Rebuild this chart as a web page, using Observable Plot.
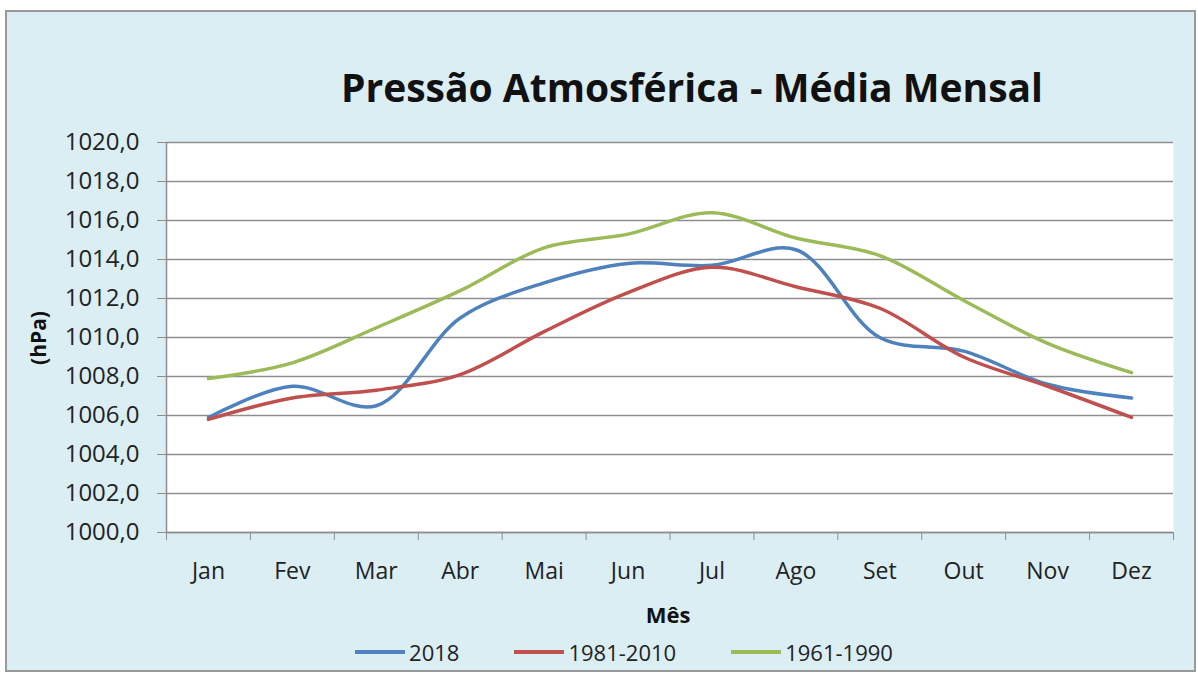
<!DOCTYPE html>
<html>
<head>
<meta charset="utf-8">
<script src="https://cdn.jsdelivr.net/npm/d3@7"></script>
<script src="https://cdn.jsdelivr.net/npm/@observablehq/plot@0.6"></script>
<style>
  html, body { margin: 0; padding: 0; background: #ffffff; }
  #page { position: relative; width: 1198px; height: 676px; overflow: hidden; font-family: "Open Sans", sans-serif; }
  #box { position: absolute; left: 5px; top: 10px; width: 1191px; height: 662px; background: #dbeef4; border: 2px solid #9a9a9a; box-sizing: border-box; }
  #title { position: absolute; left: 0; width: 1384px; top: 60px; text-align: center; font-weight: 700; font-size: 39px; color: #111; white-space: nowrap; }
  #ylabel { position: absolute; left: 38px; top: 338px; transform: translate(-50%, -50%) rotate(-90deg); font-weight: 700; font-size: 21px; color: #111; white-space: nowrap; }
  #xlabel { position: absolute; left: 668px; top: 614px; transform: translate(-50%, -50%); font-weight: 700; font-size: 22px; color: #111; }
  #legend { position: absolute; left: 0; width: 1248px; top: 652px; transform: translateY(-50%); display: flex; justify-content: center; gap: 55px; font-size: 22px; color: #222; }
  #legend .item { display: flex; align-items: center; gap: 4px; }
  #legend .sw { width: 50px; height: 4px; }
  #chart { position: absolute; left: 0; top: 120px; }
</style>
</head>
<body>
<div id="page">
  <div id="box"></div>
  <div id="title">Pressão Atmosférica - Média Mensal</div>
  <div id="ylabel">(hPa)</div>
  <div id="xlabel">Mês</div>
  <div id="chart"></div>
  <div id="legend"></div>
</div>
<script>
const months = ["Jan", "Fev", "Mar", "Abr", "Mai", "Jun", "Jul", "Ago", "Set", "Out", "Nov", "Dez"];
const seriesNames = ["2018", "1981-2010", "1961-1990"];
const seriesColors = ["#4f81bd", "#c0504d", "#9bbb59"];
const values2018 = [1005.9, 1007.5, 1006.5, 1011.0, 1012.8, 1013.8, 1013.7, 1014.5, 1010.0, 1009.3, 1007.6, 1006.9];
const values1981 = [1005.8, 1006.9, 1007.3, 1008.1, 1010.3, 1012.3, 1013.6, 1012.6, 1011.5, 1009.0, 1007.5, 1005.9];
const values1961 = [1007.9, 1008.7, 1010.5, 1012.4, 1014.6, 1015.3, 1016.4, 1015.1, 1014.2, 1011.9, 1009.7, 1008.2];
const yTicks = [1000, 1002, 1004, 1006, 1008, 1010, 1012, 1014, 1016, 1018, 1020];

const allSeries = [values2018, values1981, values1961];
const data = [];
allSeries.forEach((vals, s) => {
  months.forEach((m, i) => data.push({ i, month: m, v: vals[i], serie: seriesNames[s] }));
});
const idx = months.map((m, i) => i);
const bounds = [...idx.map(i => i - 0.5), months.length - 0.5];

const chart = Plot.plot({
  width: 1198,
  height: 480,
  marginLeft: 166,
  marginRight: 25,
  marginTop: 22,
  marginBottom: 68,
  style: { background: "transparent", fontFamily: "'Open Sans', sans-serif", fontSize: "23px", color: "#222" },
  x: { domain: [-0.5, months.length - 0.5] },
  y: { domain: [1000, 1020] },
  color: { domain: seriesNames, range: seriesColors },
  marks: [
    Plot.frame({ fill: "white", stroke: null }),
    Plot.gridY(yTicks, { stroke: "#8e8e8e", strokeOpacity: 1, strokeWidth: 1.5 }),
    Plot.axisY(yTicks, { tickSize: 9, tickPadding: 18, tickFormat: d => d.toFixed(1).replace(".", ","), label: null, stroke: "#8e8e8e", fill: "#222", fontSize: 24 }),
    Plot.axisX(bounds, { tickSize: 8, tickFormat: () => "", label: null, stroke: "#8e8e8e" }),
    Plot.axisX(idx, { tickSize: 0, tickPadding: 30, tickFormat: i => months[i], label: null, fill: "#222", fontSize: 23 }),
    Plot.ruleX([-0.5], { stroke: "#8e8e8e", strokeWidth: 1.5 }),
    Plot.ruleY([1000], { stroke: "#8e8e8e", strokeWidth: 1.5 }),
    Plot.line(data, { x: "i", y: "v", z: "serie", stroke: "serie", curve: "catmull-rom", strokeWidth: 3.5 })
  ]
});
document.getElementById("chart").appendChild(chart);

const legend = document.getElementById("legend");
seriesNames.forEach((n, k) => {
  const item = document.createElement("div");
  item.className = "item";
  const sw = document.createElement("div");
  sw.className = "sw";
  sw.style.background = seriesColors[k];
  const t = document.createElement("span");
  t.textContent = n;
  item.appendChild(sw);
  item.appendChild(t);
  legend.appendChild(item);
});
</script>
</body>
</html>
